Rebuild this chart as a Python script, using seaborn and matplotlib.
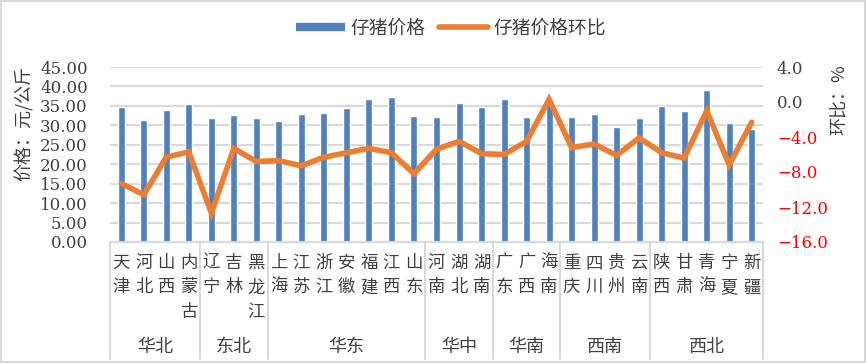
import numpy as np
import pandas as pd
import matplotlib
matplotlib.use("Agg")
import matplotlib.pyplot as plt
import matplotlib.transforms as mtransforms
from matplotlib.lines import Line2D
from matplotlib.patches import Rectangle
import seaborn as sns

# Data
provinces = ["天津", "河北", "山西", "内蒙古", "辽宁", "吉林", "黑龙江",
             "上海", "江苏", "浙江", "安徽", "福建", "江西", "山东",
             "河南", "湖北", "湖南", "广东", "广西", "海南",
             "重庆", "四川", "贵州", "云南",
             "陕西", "甘肃", "青海", "宁夏", "新疆"]
regions = ["华北", "东北", "华东", "华中", "华南", "西南", "西北"]
region_sizes = [4, 3, 7, 3, 3, 4, 5]
price = [34.7, 31.3, 33.9, 35.4, 31.8, 32.6, 31.8,
         31.0, 32.8, 33.1, 34.4, 36.7, 37.2, 32.3,
         32.1, 35.7, 34.6, 36.9, 32.1, 35.2,
         32.1, 32.8, 29.7, 31.8,
         34.9, 33.6, 39.0, 30.5, 29.0]
mom = [-9.3, -10.6, -6.3, -5.7, -12.7, -5.3, -6.8,
       -6.7, -7.3, -6.3, -5.8, -5.3, -5.8, -8.2,
       -5.4, -4.5, -5.9, -6.0, -4.5, 0.3,
       -5.2, -4.8, -6.1, -4.1,
       -5.8, -6.4, -1.0, -7.2, -2.3]
left_ticks = np.arange(0, 45.01, 5)
right_ticks = np.arange(-16, 4.01, 4)

BLUE = "#4F81BD"
ORANGE = "#ED7D31"
GRID = "#D9D9D9"
TXT = "#404040"

sns.set_style("white")
plt.rcParams["font.family"] = ["Noto Sans CJK SC", "DejaVu Sans"]

df = pd.DataFrame({"省份": provinces, "价格": price, "环比": mom,
                   "pos": np.arange(len(provinces))})

W, H = 868, 363
fig = plt.figure(figsize=(W / 100, H / 100), dpi=100)
ax = fig.add_axes([110 / W, 1 - 242 / H, (763 - 110) / W, (242 - 67) / H])

sns.barplot(data=df, x="省份", y="价格", color=BLUE, width=0.31,
            saturation=1, ax=ax, zorder=2)
ax.set_ylim(0, 45)
ax.set_xticks([])
ax.set_xlabel("")
ax.set_ylabel("")
ax.grid(axis="y", color=GRID, lw=1.5, zorder=0)
ax.set_axisbelow(True)
for s in ["left", "right", "top"]:
    ax.spines[s].set_visible(False)
ax.spines["bottom"].set_color(GRID)
ax.spines["bottom"].set_linewidth(1.5)

ax2 = ax.twinx()
sns.lineplot(data=df, x="pos", y="环比", color=ORANGE, lw=4, ax=ax2,
             solid_joinstyle="miter", zorder=3)
ax2.set_ylim(-16, 4)
ax2.set_xlim(-0.5, len(provinces) - 0.5)
ax2.set_xlabel("")
ax2.set_ylabel("")
for s in ax2.spines.values():
    s.set_visible(False)

# tick labels
ax.set_yticks(left_ticks)
ax.set_yticklabels([f"{v:.2f}" for v in left_ticks], family="DejaVu Serif",
                   fontsize=12, color=TXT)
ax.tick_params(axis="y", which="both", length=0, pad=16)
ax2.set_yticks(right_ticks)
ax2.set_yticklabels([f"{v:.1f}".replace("-", "−") for v in right_ticks],
                    family="DejaVu Serif", fontsize=12)
for lab, v in zip(ax2.get_yticklabels(), right_ticks):
    lab.set_color("red" if v < 0 else TXT)
ax2.tick_params(axis="y", which="both", length=0, pad=10)

# axis titles
fig.text(24 / W, 1 - 123 / H, "价格：元/公斤", rotation=90, ha="center",
         va="center", fontsize=13, color=TXT)
fig.text(840 / W, 1 - 100 / H, "环比：%", rotation=90, ha="center",
         va="center", fontsize=13, color=TXT)

# multi-level category axis
trans = mtransforms.blended_transform_factory(ax.transData, fig.transFigure)
for i, name in enumerate(provinces):
    ax.text(i, 1 - 254 / H, "\n".join(name), transform=trans, ha="center",
            va="top", fontsize=12.5, color=TXT, linespacing=1.45)

edges = np.concatenate([[0], np.cumsum(region_sizes)]) - 0.5
for e in edges:
    ax.add_line(Line2D([e, e], [1 - 242 / H, 1 - 359 / H], transform=trans,
                       color=GRID, lw=1.5, clip_on=False))
for r, a, b in zip(regions, edges[:-1], edges[1:]):
    ax.text((a + b) / 2, 1 - 347 / H, r, transform=trans, ha="center",
            va="center", fontsize=13, color=TXT)

# legend
handles = [Line2D([], [], color=BLUE, lw=6, solid_capstyle="butt"),
           Line2D([], [], color=ORANGE, lw=4, solid_capstyle="round")]
fig.legend(handles, ["仔猪价格", "仔猪价格环比"], loc="center",
           bbox_to_anchor=(451 / W, 1 - 28 / H), ncol=2, frameon=False,
           fontsize=13.5, handlelength=2.6, handletextpad=0.3, columnspacing=0.7,
           labelcolor=TXT)

fig.patches.append(Rectangle((0.001, 0.003), 0.996, 0.994,
                             transform=fig.transFigure, fill=False,
                             edgecolor=GRID, lw=1.5))

fig.savefig("out.png", dpi=100)
